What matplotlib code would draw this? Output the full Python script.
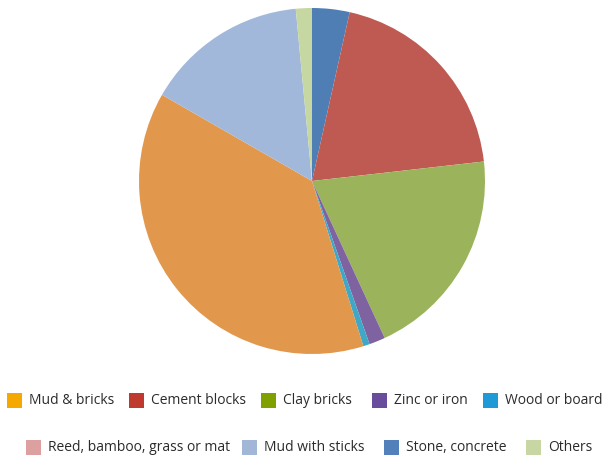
import matplotlib
matplotlib.use("Agg")
import matplotlib.pyplot as plt
from matplotlib.patches import Rectangle

# slices in drawing order (clockwise from 12 o'clock)
slice_labels = ["Stone, concrete", "Cement blocks", "Clay bricks", "Zinc or iron",
                "Wood or board", "Mud & bricks", "Mud with sticks", "Others"]
slice_values = [3.5, 19.7, 19.9, 1.5, 0.6, 38.1, 15.2, 1.5]
slice_colors = ["#4f7eb5", "#be5a52", "#9bb45c", "#7e63a0",
                "#3fa8c6", "#e2984c", "#a2b8da", "#c6d7a2"]

# legend entries
legend_row1 = ["Mud & bricks", "Cement blocks", "Clay bricks", "Zinc or iron", "Wood or board"]
legend_row1_colors = ["#f5a800", "#c0392e", "#80a000", "#6a4c9c", "#1f9ad6"]
legend_row2 = ["Reed, bamboo, grass or mat", "Mud with sticks", "Stone, concrete", "Others"]
legend_row2_colors = ["#dda0a0", "#a2b6d8", "#5181b8", "#c8d6a4"]

plt.rcParams['font.family'] = ['Open Sans', 'DejaVu Sans']

W, H = 608, 461
fig = plt.figure(figsize=(W / 100, H / 100), dpi=100)

cx, cy, r = 312, 181, 173
ax = fig.add_axes([(cx - r) / W, (H - cy - r) / H, 2 * r / W, 2 * r / H])
ax.pie(slice_values, colors=slice_colors, startangle=90, counterclock=False,
       radius=1, wedgeprops=dict(linewidth=0))
ax.set_xlim(-1, 1)
ax.set_ylim(-1, 1)
ax.set_aspect('equal')
ax.axis('off')

# manual legend, two rows
row1_x = [7, 129, 261, 372, 483]
row2_x = [26, 242, 384, 526]
for labels, colors, xs, yc in [(legend_row1, legend_row1_colors, row1_x, 400),
                               (legend_row2, legend_row2_colors, row2_x, 447)]:
    for lab, col, x in zip(labels, colors, xs):
        fig.patches.append(Rectangle((x / W, (H - yc - 7.5) / H), 15 / W, 15 / H,
                                     transform=fig.transFigure, facecolor=col,
                                     edgecolor='none'))
        fig.text((x + 22) / W, (H - yc) / H, lab, fontsize=10, color='#2b2b2b',
                 va='center', ha='left')

fig.savefig("out.png", dpi=100)
